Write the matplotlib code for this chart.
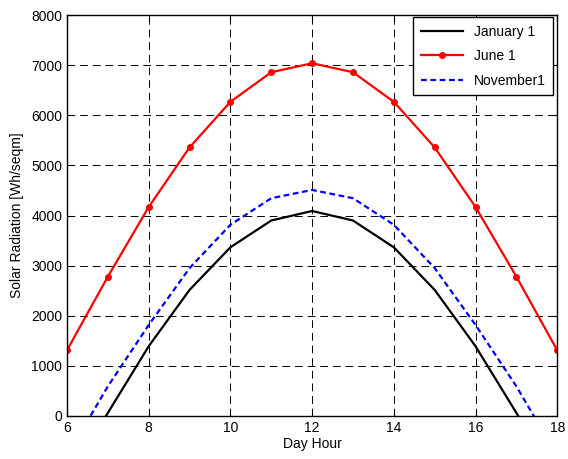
import numpy as np
import matplotlib
matplotlib.use("Agg")
import matplotlib.pyplot as plt

plt.rcParams['font.family'] = ['Liberation Sans', 'DejaVu Sans']
plt.rcParams['font.size'] = 10

hours = [6, 7, 8, 9, 10, 11, 12, 13, 14, 15, 16, 17, 18]
january = [-1300, 60, 1390, 2515, 3365, 3900, 4090, 3900, 3365, 2515, 1390, 60, -1300]
june = [1310, 2780, 4170, 5360, 6270, 6860, 7040, 6860, 6270, 5360, 4170, 2780, 1310]
november = [-800, 590, 1815, 2950, 3815, 4345, 4510, 4345, 3815, 2950, 1815, 590, -800]

fig = plt.figure(figsize=(5.68, 4.59), dpi=100)
ax = fig.add_axes([0.118, 0.094, 0.863, 0.873])

ax.plot(hours, january, color='black', lw=1.6, label='January 1')
ax.plot(hours, june, color='red', lw=1.6, marker='o', ms=4, label='June 1')
ax.plot(hours, november, color='blue', lw=1.6, ls=(0, (2.6, 1.6)), label='November1')

ax.set_xlim(6, 18)
ax.set_ylim(0, 8000)
ax.set_xticks(np.arange(6, 19, 2))
ax.set_yticks(np.arange(0, 8001, 1000))
ax.grid(True, color='black', ls=(0, (8, 5)), lw=0.7)
ax.tick_params(direction='in', top=True, right=True, length=4, width=0.8)
for s in ax.spines.values():
    s.set_linewidth(1.0)

ax.set_xlabel('Day Hour', labelpad=2)
ax.set_ylabel('Solar Radiation [Wh/seqm]', labelpad=5)

leg = ax.legend(loc='upper right', fancybox=False, framealpha=1, edgecolor='black',
                handlelength=3.0, labelspacing=0.75, borderpad=0.55,
                bbox_to_anchor=(0.992, 0.995), borderaxespad=0)
leg.get_frame().set_linewidth(1.0)

fig.savefig('out.png', dpi=100)
